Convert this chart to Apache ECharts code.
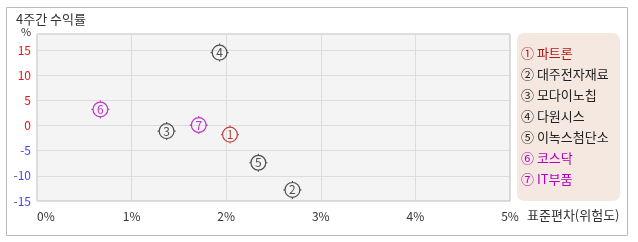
<!DOCTYPE html>
<html><head><meta charset="utf-8">
<script src="https://cdn.jsdelivr.net/npm/echarts@6/dist/echarts.min.js"></script>
<style>html,body{margin:0;padding:0;background:#fff}#c{width:638px;height:242px}</style>
</head><body><div id="c"></div>
<script>
var names = ['파트론','대주전자재료','모다이노칩','다원시스','이녹스첨단소','코스닥','IT부품'];
var marks = ['①','②','③','④','⑤','⑥','⑦'];
var risk = [2.04, 2.70, 1.37, 1.93, 2.34, 0.67, 1.71];
var ret4w = [-1.8, -12.8, -1.1, 14.5, -7.4, 3.2, 0.1];
var colors = ['#b01818','#222222','#222222','#222222','#222222','#b000c0','#b000c0'];
var xTicks = [0,1,2,3,4,5];
var yTicks = [-15,-10,-5,0,5,10,15];

var FONT = '"Noto Sans CJK KR", "DejaVu Sans", sans-serif';
var markerPath = 'path://M3,10 A7,7 0 1,1 17,10 A7,7 0 1,1 3,10 Z M10,1.5 L10,3 M10,17 L10,18.5 M1.5,10 L3,10 M17,10 L18.5,10';

var chart = echarts.init(document.getElementById('c'));
var series = names.map(function(n,i){
  return {
    type:'scatter', name:n,
    data:[[risk[i], ret4w[i]]],
    symbol: markerPath, symbolSize: 18,
    itemStyle:{color:'none', borderColor:colors[i], borderWidth:1.2},
    label:{show:true, position:'inside', formatter:String(i+1), color:colors[i], fontSize:12, fontFamily:FONT},
    z: 5
  };
});
var legendEls = [{type:'rect', shape:{x:517,y:33,width:103,height:168,r:7}, style:{fill:'#f5e8e0'}}];
names.forEach(function(n,i){
  legendEls.push({type:'text', left:521, top:47+i*21, style:{text: marks[i]+' '+n, fill:colors[i], font:'13px '+FONT}});
});
chart.setOption({
  animation:false,
  backgroundColor:'#fff',
  grid:{left:37, top:34, width:473, height:167, show:true, backgroundColor:'#f4f4f4', borderColor:'#bbbbbb', borderWidth:1, containLabel:false},
  xAxis:{type:'value', min:0, max:5, interval:1,
    axisLine:{show:false}, axisTick:{show:false},
    splitLine:{show:true, lineStyle:{color:'#dddddd'}},
    axisLabel:{formatter:function(v){return xTicks.indexOf(v)>=0 ? v+'%' : '';}, alignMinLabel:'left', color:'#333', fontSize:12, fontFamily:FONT, margin:9}
  },
  yAxis:{type:'value', min:-15, max:18.2, interval:5,
    axisLine:{show:false}, axisTick:{show:false},
    splitLine:{show:true, lineStyle:{color:'#dddddd'}},
    axisLabel:{showMaxLabel:false, fontSize:12, fontFamily:FONT, margin:6,
      formatter:function(v){ return yTicks.indexOf(v)>=0 ? String(v) : ''; },
      color:function(v){ return Number(v)>=0 ? '#ee1111' : '#4444ee'; }}
  },
  graphic:[
    {type:'rect', shape:{x:6.5,y:7.5,width:621,height:228}, style:{fill:'none', stroke:'#bbbbbb', lineWidth:1}, z:-1},
    {type:'text', left:16, top:13, style:{text:'4주간 수익률', fill:'#333', font:'13px '+FONT}},
    {type:'text', left:21, top:26, style:{text:'%', fill:'#333', font:'11px '+FONT}},
    {type:'text', left:527, top:209, style:{text:'표준편차(위험도)', fill:'#333', font:'13px '+FONT}}
  ].concat(legendEls),
  series: series
});
</script></body></html>
